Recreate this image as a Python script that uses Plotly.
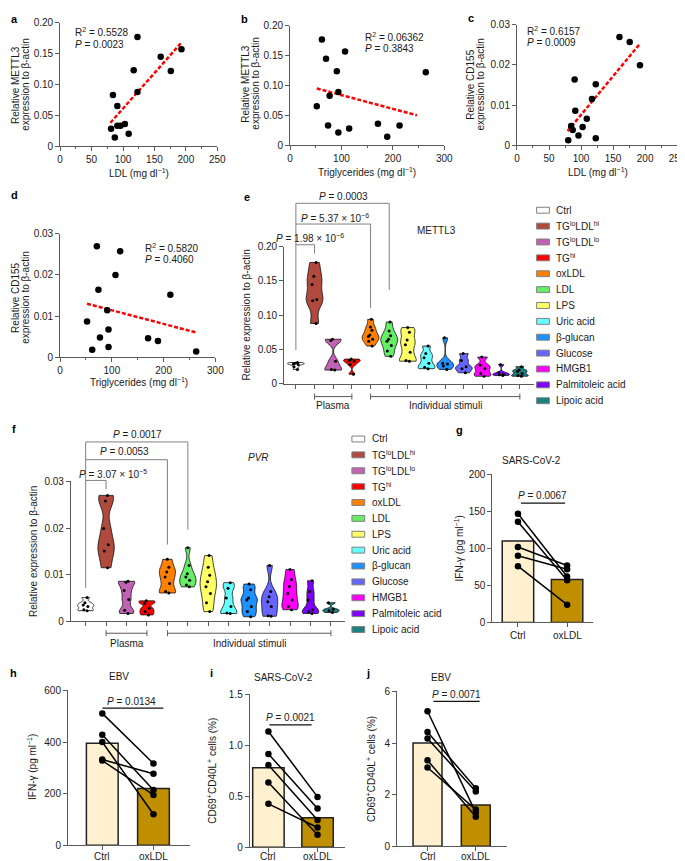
import plotly.graph_objects as go

W, H = 685, 861
FONT = "Liberation Sans, Arial, sans-serif"
AXC = "#5a5a5a"
TXT = "#1a1a1a"

# ---------------- data ----------------
# a: METTL3 vs LDL
a_ldl = [123, 193, 160, 117, 176, 123, 84, 91, 103, 96, 91, 81, 109, 87]
a_mettl3 = [0.177, 0.157, 0.145, 0.123, 0.122, 0.088, 0.083, 0.065, 0.036, 0.033, 0.033, 0.028, 0.020, 0.014]
a_fit_x = [80, 192]
a_fit_y = [0.038, 0.167]
# b: METTL3 vs triglycerides
b_tg = [62, 107, 70, 91, 264, 94, 77, 52, 74, 171, 213, 115, 94, 189]
b_mettl3 = [0.177, 0.157, 0.145, 0.124, 0.122, 0.089, 0.083, 0.065, 0.033, 0.036, 0.033, 0.028, 0.021, 0.014]
b_fit_x = [52, 247]
b_fit_y = [0.095, 0.050]
# c: CD155 vs LDL
c_ldl = [160, 176, 192, 90, 123, 117, 91, 109, 102.5, 84.5, 87, 96, 123, 80]
c_cd155 = [0.0270, 0.0257, 0.0199, 0.0164, 0.0152, 0.0115, 0.0086, 0.0066, 0.0045, 0.0048, 0.0038, 0.0024, 0.0017, 0.0012]
c_fit_x = [79, 191]
c_fit_y = [0.0035, 0.0251]
# d: CD155 vs triglycerides
d_tg = [71, 116, 107, 74, 213, 91, 52, 93.5, 77, 170, 189, 62, 93.5, 263]
d_cd155 = [0.0270, 0.0258, 0.0200, 0.0164, 0.0152, 0.0114, 0.0087, 0.0067, 0.0048, 0.0046, 0.0039, 0.0018, 0.0025, 0.0014]
d_fit_x = [52, 263]
d_fit_y = [0.0130, 0.0060]

groups = ["Ctrl", "TG<sup>lo</sup>LDL<sup>hi</sup>", "TG<sup>lo</sup>LDL<sup>lo</sup>", "TG<sup>hi</sup>",
          "oxLDL", "LDL", "LPS", "Uric acid", "β-glucan", "Glucose", "HMGB1",
          "Palmitoleic acid", "Lipoic acid"]
group_colors = ["#ffffff", "#b04a3c", "#c063b4", "#ff0000", "#ff8000", "#66ee66", "#ffff66",
                "#66ffff", "#1e90ff", "#6666ff", "#ff00ff", "#8000ff", "#1a8080"]

# e: METTL3 per group
e_ctrl = [0.031, 0.030, 0.029, 0.028, 0.025, 0.021]
e_tglo_ldlhi = [0.177, 0.157, 0.145, 0.123, 0.121, 0.088]
e_tglo_ldllo = [0.065, 0.063, 0.033, 0.021, 0.020]
e_tghi = [0.036, 0.034, 0.033, 0.028, 0.014]
e_oxldl = [0.094, 0.083, 0.078, 0.071, 0.069, 0.065, 0.062, 0.055]
e_ldl = [0.090, 0.077, 0.070, 0.065, 0.062, 0.056, 0.048, 0.040]
e_lps = [0.082, 0.075, 0.064, 0.057, 0.046, 0.034, 0.033]
e_uric = [0.055, 0.044, 0.038, 0.030, 0.024, 0.022]
e_bglucan = [0.067, 0.030, 0.029, 0.026, 0.021]
e_glucose = [0.044, 0.034, 0.025, 0.022, 0.016]
e_hmgb1 = [0.039, 0.027, 0.022, 0.015, 0.011]
e_palm = [0.028, 0.016, 0.014, 0.013, 0.012]
e_lipoic = [0.025, 0.020, 0.018, 0.015, 0.012, 0.011]
e_values = [e_ctrl, e_tglo_ldlhi, e_tglo_ldllo, e_tghi, e_oxldl, e_ldl, e_lps, e_uric,
            e_bglucan, e_glucose, e_hmgb1, e_palm, e_lipoic]

# f: PVR per group
f_ctrl = [0.0051, 0.0040, 0.0035, 0.0032, 0.0025, 0.0023]
f_tglo_ldlhi = [0.0270, 0.0258, 0.0199, 0.0164, 0.0151, 0.0115]
f_tglo_ldllo = [0.0086, 0.0084, 0.0066, 0.0047, 0.0024, 0.0017]
f_tghi = [0.0044, 0.0039, 0.0028, 0.0021, 0.0014]
f_oxldl = [0.0133, 0.0116, 0.0106, 0.0095, 0.0081, 0.0064, 0.0061]
f_ldl = [0.0158, 0.0120, 0.0102, 0.0095, 0.0088, 0.0078, 0.0074]
f_lps = [0.0141, 0.0116, 0.0099, 0.0085, 0.0074, 0.0060, 0.0040, 0.0021]
f_uric = [0.0083, 0.0071, 0.0050, 0.0032, 0.0018, 0.0017]
f_bglucan = [0.0080, 0.0068, 0.0050, 0.0046, 0.0032, 0.0021, 0.0010]
f_glucose = [0.0120, 0.0064, 0.0053, 0.0042, 0.0032, 0.0012, 0.0011]
f_hmgb1 = [0.0111, 0.0090, 0.0075, 0.0060, 0.0046, 0.0032, 0.0025]
f_palm = [0.0087, 0.0064, 0.0046, 0.0025, 0.0021, 0.0017]
f_lipoic = [0.0040, 0.0026, 0.0023, 0.0019]
f_values = [f_ctrl, f_tglo_ldlhi, f_tglo_ldllo, f_tghi, f_oxldl, f_ldl, f_lps, f_uric,
            f_bglucan, f_glucose, f_hmgb1, f_palm, f_lipoic]

bar_labels = ["Ctrl", "oxLDL"]
bar_colors = ["#fff1cf", "#bf8f00"]
g_ctrl = [147, 136, 102, 90, 76]
g_oxldl = [62, 57, 77, 72, 24]
g_bar = [110, 58]
h_ctrl = [511, 428, 400, 332, 328]
h_oxldl = [317, 214, 120, 277, 195]
h_bar = [395, 220]
i_ctrl = [1.135, 0.916, 0.806, 0.636, 0.426]
i_oxldl = [0.494, 0.380, 0.268, 0.123, 0.194]
i_bar = [0.78, 0.29]
j_ctrl = [5.23, 4.43, 4.18, 3.33, 3.05]
j_oxldl = [1.30, 2.25, 2.12, 1.14, 1.42]
j_bar = [4.0, 1.6]

# ---------------- layout geometry (pixels) ----------------
BOX = dict(a=(50, 210, 9, 134), b=(284, 441, 12, 133), c=(515, 678, 11, 133),
           d=(50, 208, 223, 348), e=(278, 532, 236, 375), f=(61, 340, 474, 616),
           g=(490, 592, 467, 617), h=(58, 182, 686, 843), i=(243, 340, 690, 845),
           j=(393, 505, 687, 844))
RNG = dict(a=((0, 250), (0, 0.2)), b=((0, 300), (0, 0.2)), c=((0, 250), (0, 0.03)),
           d=((0, 300), (0, 0.03)), e=((-0.63, 12.74), (0, 0.2)), f=((-0.72, 12.69), (0, 0.03)),
           g=((-0.52, 1.52), (0, 200)), h=((-0.67, 1.71), (0, 600)), i=((-0.38, 1.56), (0, 1.5)),
           j=((-0.63, 1.65), (0, 6)))
PANELS = "abcdefghij"


def aid(p):
    k = PANELS.index(p) + 1
    return ("x" if k == 1 else f"x{k}"), ("y" if k == 1 else f"y{k}")


def xpx(p, xv):
    l, r, t, b = BOX[p]
    x0, x1 = RNG[p][0]
    return l + (xv - x0) / (x1 - x0) * (r - l)


shapes, annots = [], []


def ann(text, x, y, size=10, xa="center", ya="middle", angle=0, color=TXT):
    annots.append(dict(text=text, x=x / W, y=1 - y / H, xref="paper", yref="paper",
                       showarrow=False, xanchor=xa, yanchor=ya, textangle=angle,
                       font=dict(size=size, family=FONT, color=color)))


def seg(x0, y0, x1, y1, color=AXC, width=1):
    shapes.append(dict(type="line", xref="paper", yref="paper", x0=x0 / W, y0=1 - y0 / H,
                       x1=x1 / W, y1=1 - y1 / H, line=dict(color=color, width=width)))


def rect(x0, y0, x1, y1, fill, line="#808080"):
    shapes.append(dict(type="rect", xref="paper", yref="paper", x0=x0 / W, y0=1 - y0 / H,
                       x1=x1 / W, y1=1 - y1 / H, fillcolor=fill, line=dict(color=line, width=1)))


fig = go.Figure()
layout_axes = {}

base = dict(showline=True, linecolor=AXC, linewidth=1, ticks="outside", ticklen=4,
            tickcolor=AXC, tickwidth=1, showgrid=False, zeroline=False, fixedrange=True,
            tickfont=dict(size=10, family=FONT, color=TXT))


def set_axes(p, xextra, yextra):
    xa, ya = aid(p)
    l, r, t, b = BOX[p]
    xk = "xaxis" + xa[1:]
    yk = "yaxis" + ya[1:]
    layout_axes[xk] = dict(base, domain=[l / W, r / W], range=list(RNG[p][0]), anchor=ya, **xextra)
    layout_axes[yk] = dict(base, domain=[1 - b / H, 1 - t / H], range=list(RNG[p][1]), anchor=xa, **yextra)


def fmt(vals, labels):
    return dict(tickmode="array", tickvals=vals, ticktext=labels)


# ---------------- scatter panels a-d ----------------
scat = [("a", a_ldl, a_mettl3, a_fit_x, a_fit_y), ("b", b_tg, b_mettl3, b_fit_x, b_fit_y),
        ("c", c_ldl, c_cd155, c_fit_x, c_fit_y), ("d", d_tg, d_cd155, d_fit_x, d_fit_y)]
for p, xs, ys, fx, fy in scat:
    xa, ya = aid(p)
    fig.add_trace(go.Scatter(x=fx, y=fy, mode="lines", xaxis=xa, yaxis=ya, showlegend=False,
                             line=dict(color="#ff0000", width=2.5, dash="4px,2px"), cliponaxis=False))
    fig.add_trace(go.Scatter(x=xs, y=ys, mode="markers", xaxis=xa, yaxis=ya, showlegend=False,
                             marker=dict(color="black", size=6.5), cliponaxis=False))

ldl_ticks = dict(tick0=0, dtick=50, minor=dict(ticks="outside", ticklen=2, dtick=25, tick0=0, tickcolor=AXC))
tg_ticks = dict(tick0=0, dtick=100, minor=dict(ticks="outside", ticklen=2, dtick=50, tick0=0, tickcolor=AXC))
y02 = fmt([0, 0.05, 0.10, 0.15, 0.20], ["0", "0.05", "0.10", "0.15", "0.20"])
y003 = fmt([0, 0.01, 0.02, 0.03], ["0", "0.01", "0.02", "0.03"])
set_axes("a", ldl_ticks, y02)
set_axes("b", tg_ticks, y02)
set_axes("c", ldl_ticks, y003)
set_axes("d", tg_ticks, y003)

# stats text
ann("R<sup>2</sup> = 0.5528", 63, 18, xa="left")
ann("<i>P</i> = 0.0023", 63, 31, xa="left")
ann("R<sup>2</sup> = 0.06362", 358, 23, xa="left")
ann("<i>P</i> = 0.3843", 358, 35, xa="left")
ann("R<sup>2</sup> = 0.6157", 523, 17, xa="left")
ann("<i>P</i> = 0.0009", 523, 29, xa="left")
ann("R<sup>2</sup> = 0.5820", 134, 237, xa="left")
ann("<i>P</i> = 0.4060", 134, 249, xa="left")

# axis titles a-d
ann("Relative METTL3", 5, 72, angle=-90)
ann("expression to β-actin", 15, 72, angle=-90)
ann("LDL (mg dl<sup>−1</sup>)", 130, 161)
ann("Relative METTL3", 238, 71, angle=-90)
ann("expression to β-actin", 248, 71, angle=-90)
ann("Triglycerides (mg dl<sup>−1</sup>)", 362, 160)
ann("Relative CD155", 468, 72, angle=-90)
ann("expression to β-actin", 478, 72, angle=-90)
ann("LDL (mg dl<sup>−1</sup>)", 597, 160)
ann("Relative CD155", 5, 288, angle=-90)
ann("expression to β-actin", 15, 288, angle=-90)
ann("Triglycerides (mg dl<sup>−1</sup>)", 130, 373)

# ---------------- violin panels e, f ----------------
for p, vals, wid in (("e", e_values, 0.9), ("f", f_values, 0.8)):
    xa, ya = aid(p)
    for k, v in enumerate(vals):
        fig.add_trace(go.Violin(x=[k] * len(v), y=v, xaxis=xa, yaxis=ya, showlegend=False,
                                width=wid, scalemode="width", spanmode="hard",
                                bandwidth=0.13 * (max(v) - min(v)),
                                fillcolor=group_colors[k], line=dict(color="#111111", width=0.8),
                                points="all", pointpos=0, jitter=0.35,
                                marker=dict(color="black", size=3),
                                box=dict(visible=False), meanline=dict(visible=False)))

cat_ticks = dict(tickmode="array", tickvals=list(range(13)), showticklabels=False)
set_axes("e", cat_ticks, y02)
set_axes("f", cat_ticks, y003)

ann("Relative expression to β-actin", 240, 305, angle=-90)
ann("Relative expression to β-actin", 23, 545, angle=-90)
ann("METTL3", 433, 220)
ann("<i>PVR</i>", 252, 450)


def bracket_below(p, i0, i1, y):
    x0, x1 = xpx(p, i0), xpx(p, i1)
    seg(x0, y, x1, y)
    seg(x0, y - 3, x0, y + 3)
    seg(x1, y - 3, x1, y + 3)


# plasma / individual stimuli groupings
bracket_below("e", 1, 3, 388)
bracket_below("e", 4, 12, 388)
ann("Plasma", (xpx("e", 1) + xpx("e", 3)) / 2, 397)
ann("Individual stimuli", (xpx("e", 4) + xpx("e", 12)) / 2, 397)
bracket_below("f", 1, 3, 628)
bracket_below("f", 4, 12, 628)
ann("Plasma", (xpx("f", 1) + xpx("f", 3)) / 2, 638)
ann("Individual stimuli", (xpx("f", 4) + xpx("f", 12)) / 2, 638)

# significance brackets e
xe0 = xpx("e", 0)
seg(xe0, 192, xe0, 341, color="#808080")
for idx, top, leg, text, ty, tx in ((1, 234, 243, "<i>P</i> = 1.98 × 10<sup>−6</sup>", 227, 304),
                                    (4, 213, 298, "<i>P</i> = 5.37 × 10<sup>−6</sup>", 207, 330),
                                    (5, 192, 280, "<i>P</i> = 0.0003", 185, 338)):
    xr = xpx("e", idx)
    seg(xe0, top, xr, top, color="#808080")
    seg(xr, top, xr, leg, color="#808080")
    ann(text, tx, ty)

# significance brackets f
xf0 = xpx("f", 0)
seg(xf0, 434, xf0, 582, color="#808080")
for idx, top, leg, text, ty, tx in ((1, 473, 482, "<i>P</i> = 3.07 × 10<sup>−5</sup>", 467, 104),
                                    (4, 452, 538, "<i>P</i> = 0.0053", 444, 116),
                                    (5, 434, 523, "<i>P</i> = 0.0017", 426, 129)):
    xr = xpx("f", idx)
    seg(xf0, top, xr, top, color="#808080")
    seg(xr, top, xr, leg, color="#808080")
    ann(text, tx, ty)

# manual legends
for lx, ly0 in ((535, 199), (347, 431)):
    for k, (name, col) in enumerate(zip(groups, group_colors)):
        yy = ly0 + k * 16.1
        rect(lx, yy - 3, lx + 13, yy + 3, col)
        ann(name, lx + 18, yy, xa="left")

# ---------------- bar panels g-j ----------------
bars = [("g", g_ctrl, g_oxldl, g_bar, 0.64, 630), ("h", h_ctrl, h_oxldl, h_bar, 0.62, 854),
        ("i", i_ctrl, i_oxldl, i_bar, 0.64, 854), ("j", j_ctrl, j_oxldl, j_bar, 0.60, 854)]
for p, cv, ov, bv, bw, ly in bars:
    xa, ya = aid(p)
    fig.add_trace(go.Bar(x=[0, 1], y=bv, width=bw, xaxis=xa, yaxis=ya, showlegend=False,
                         marker=dict(color=bar_colors, line=dict(color="#222222", width=1.5))))
    for c0, o0 in zip(cv, ov):
        fig.add_trace(go.Scatter(x=[0, 1], y=[c0, o0], mode="lines+markers", xaxis=xa, yaxis=ya,
                                 showlegend=False, cliponaxis=False,
                                 line=dict(color="black", width=1.5),
                                 marker=dict(color="black", size=6.5)))
    for k, lab in enumerate(bar_labels):
        ann(lab, xpx(p, k), ly)

bar_x = dict(tickmode="array", tickvals=[0, 1], showticklabels=False)
set_axes("g", bar_x, fmt([0, 50, 100, 150, 200], ["0", "50", "100", "150", "200"]))
set_axes("h", bar_x, fmt([0, 200, 400, 600], ["0", "200", "400", "600"]))
set_axes("i", bar_x, fmt([0, 0.5, 1.0, 1.5], ["0", "0.5", "1.0", "1.5"]))
set_axes("j", bar_x, fmt([0, 2, 4, 6], ["0", "2", "4", "6"]))

ann("SARS-CoV-2", 530, 453)
ann("EBV", 110, 672)
ann("SARS-CoV-2", 277, 673)
ann("EBV", 438, 673)
ann("IFN-γ (pg ml<sup>−1</sup>)", 456, 542, angle=-90)
ann("IFN-γ (pg ml<sup>−1</sup>)", 22, 764, angle=-90)
ann("CD69<sup>+</sup>CD40L<sup>+</sup> cells (%)", 205, 767, angle=-90)
ann("CD69<sup>+</sup>CD40L<sup>+</sup> cells (%)", 367, 766, angle=-90)

for tx, ty, x0, x1, uy, text in ((541, 488, 519, 564, 496, "<i>P</i> = 0.0067"),
                                  (123, 697, 93, 155, 704, "<i>P</i> = 0.0134"),
                                  (284, 713, 263, 306, 721, "<i>P</i> = 0.0021"),
                                  (453, 690, 430, 477, 697, "<i>P</i> = 0.0071")):
    ann(text, tx, ty)
    seg(x0, uy, x1, uy, color="#111111", width=1.3)

# panel letters
for letter, lx, ly in (("a", 4, 5), ("b", 238, 5), ("c", 468, 4), ("d", 4, 184), ("e", 240, 186),
                       ("f", 3, 421), ("g", 456, 422), ("h", 3, 668), ("i", 204, 668), ("j", 363, 668)):
    annots.append(dict(text=f"<b>{letter}</b>", x=lx / W, y=1 - ly / H, xref="paper", yref="paper",
                       showarrow=False, xanchor="center", yanchor="middle",
                       font=dict(size=11, family=FONT, color="black")))

fig.update_layout(width=W, height=H, margin=dict(l=0, r=0, t=0, b=0),
                  paper_bgcolor="white", plot_bgcolor="rgba(0,0,0,0)",
                  violinmode="overlay", barmode="overlay",
                  shapes=shapes, annotations=annots, font=dict(family=FONT, size=10, color=TXT),
                  **layout_axes)

fig.write_html("out.html")
